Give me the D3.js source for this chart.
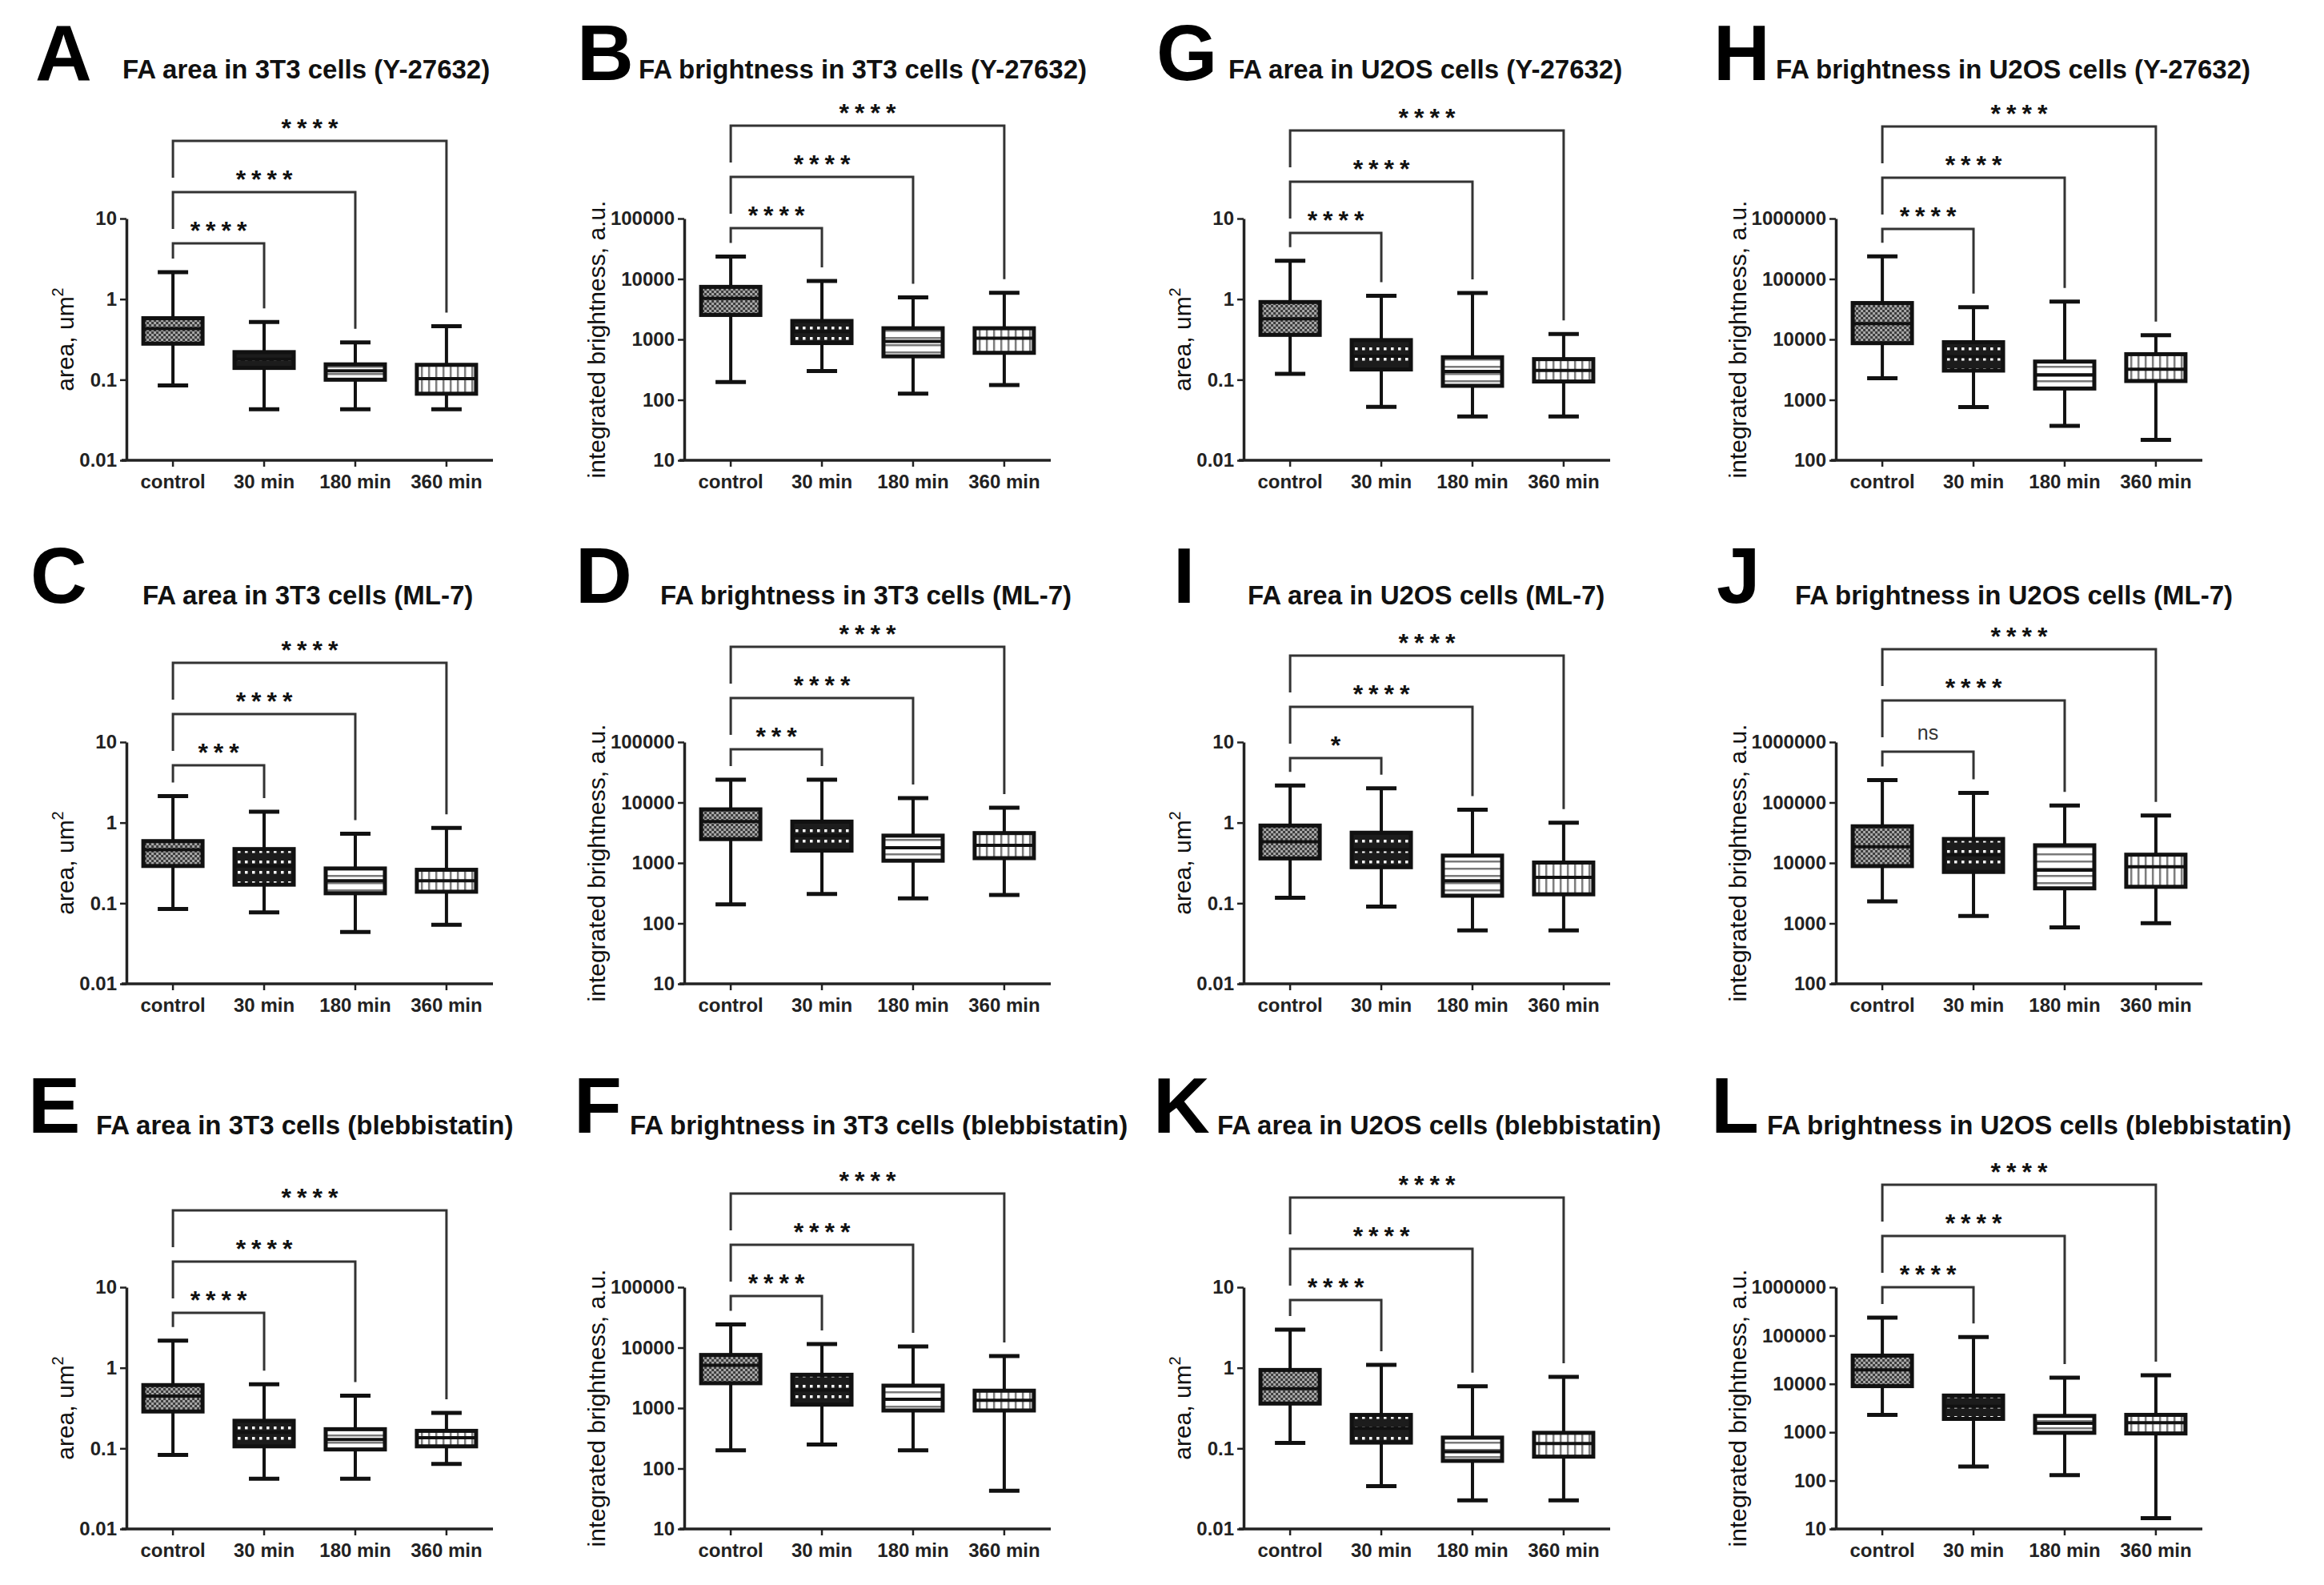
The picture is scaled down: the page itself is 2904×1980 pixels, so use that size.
<!DOCTYPE html>
<html>
<head>
<meta charset="utf-8">
<script src="https://d3js.org/d3.v7.min.js"></script>
<style>
body { margin: 0; background: #fff; }
text { font-family: "Liberation Sans", Arial, sans-serif; }
</style>
</head>
<body>
<div id="chart-area"></div>
<script>
const categories = ["control", "30 min", "180 min", "360 min"];

// box summaries per group: [min, q1, median, q3, max]
const statsA = [[0.085, 0.28, 0.43, 0.58, 2.16], [0.043, 0.14, 0.18, 0.22, 0.52], [0.043, 0.10, 0.129, 0.155, 0.29], [0.043, 0.067, 0.103, 0.153, 0.46]];
const statsB = [[197, 2540, 4760, 7400, 23500], [300, 870, 1350, 2020, 9270], [127, 525, 930, 1530, 4940], [176, 600, 1050, 1530, 5900]];
const statsC = [[0.085, 0.29, 0.46, 0.59, 2.14], [0.077, 0.17, 0.29, 0.47, 1.37], [0.044, 0.133, 0.19, 0.27, 0.73], [0.054, 0.139, 0.19, 0.26, 0.86]];
const statsD = [[207, 2480, 4830, 7700, 23800], [307, 1600, 2830, 4830, 23800], [260, 1090, 1780, 2830, 11800], [296, 1200, 1950, 3120, 8220]];
const statsE = [[0.083, 0.287, 0.445, 0.61, 2.17], [0.042, 0.106, 0.158, 0.22, 0.625], [0.042, 0.097, 0.129, 0.173, 0.45], [0.064, 0.106, 0.136, 0.165, 0.276]];
const statsF = [[200, 2580, 5130, 7570, 24300], [250, 1140, 1990, 3560, 11500], [200, 913, 1400, 2350, 10500], [43, 913, 1350, 1940, 7280]];
const statsG = [[0.118, 0.36, 0.57, 0.92, 3.0], [0.046, 0.134, 0.196, 0.31, 1.1], [0.035, 0.084, 0.127, 0.19, 1.19], [0.035, 0.095, 0.13, 0.18, 0.37]];
const statsH = [[2270, 8670, 18300, 40000, 236000], [760, 3050, 5200, 9000, 34000], [372, 1540, 2580, 4300, 42400], [217, 2050, 3200, 5700, 11700]];
const statsI = [[0.117, 0.36, 0.58, 0.92, 2.89], [0.091, 0.28, 0.46, 0.75, 2.67], [0.046, 0.124, 0.19, 0.39, 1.45], [0.046, 0.129, 0.21, 0.32, 1.0]];
const statsJ = [[2310, 8870, 18600, 40400, 234000], [1330, 7100, 13700, 24900, 144000], [860, 3800, 7580, 19600, 89000], [1010, 4030, 8650, 13700, 61000]];
const statsK = [[0.117, 0.36, 0.55, 0.94, 2.98], [0.034, 0.118, 0.177, 0.26, 1.09], [0.0227, 0.070, 0.091, 0.136, 0.59], [0.0227, 0.079, 0.115, 0.156, 0.77]];
const statsL = [[2290, 9000, 19500, 38500, 234000], [195, 1890, 3430, 5740, 93500], [130, 975, 1530, 2180, 13500], [16.8, 945, 1580, 2290, 15100]];

// significance vs control (30, 180, 360 min)
const sigA = ["****", "****", "****"];
const sigB = ["****", "****", "****"];
const sigC = ["***", "****", "****"];
const sigD = ["***", "****", "****"];
const sigE = ["****", "****", "****"];
const sigF = ["****", "****", "****"];
const sigG = ["****", "****", "****"];
const sigH = ["****", "****", "****"];
const sigI = ["*", "****", "****"];
const sigJ = ["ns", "****", "****"];
const sigK = ["****", "****", "****"];
const sigL = ["****", "****", "****"];

const width = 2904;
const height = 1980;

const svg = d3.select("#chart-area")
    .append("svg")
    .attr("width", width)
    .attr("height", height);

// fill patterns for the four groups
const defs = svg.append("defs");

const p0 = defs.append("pattern").attr("id", "pat0").attr("patternUnits", "userSpaceOnUse").attr("width", 6).attr("height", 6);
p0.append("rect").attr("width", 6).attr("height", 6).attr("fill", "#a8a8a8");
p0.append("rect").attr("width", 3).attr("height", 3).attr("fill", "#3c3c3c");
p0.append("rect").attr("x", 3).attr("y", 3).attr("width", 3).attr("height", 3).attr("fill", "#3c3c3c");

const p1 = defs.append("pattern").attr("id", "pat1").attr("patternUnits", "userSpaceOnUse").attr("width", 9).attr("height", 13);
p1.append("rect").attr("width", 9).attr("height", 13).attr("fill", "#1c1c1c");
p1.append("rect").attr("x", 3).attr("y", 5).attr("width", 3.5).attr("height", 3.5).attr("fill", "#fff");

const p2 = defs.append("pattern").attr("id", "pat2").attr("patternUnits", "userSpaceOnUse").attr("width", 10).attr("height", 9);
p2.append("rect").attr("width", 10).attr("height", 9).attr("fill", "#fff");
p2.append("rect").attr("y", 4).attr("width", 10).attr("height", 2.5).attr("fill", "#7a7a7a");

const p3 = defs.append("pattern").attr("id", "pat3").attr("patternUnits", "userSpaceOnUse").attr("width", 9).attr("height", 10);
p3.append("rect").attr("width", 9).attr("height", 10).attr("fill", "#fff");
p3.append("rect").attr("x", 4).attr("width", 2.5).attr("height", 10).attr("fill", "#7a7a7a");

// grid layout
const colX = [158, 855, 1554, 2294];
const rowTop = [273, 927, 1608];
const rowLetterY = [100, 753, 1415];
const rowTitleY = [98, 755, 1417];
const plotW = 458;
const plotH = 302;

const panels = [
    { letter: "A", lx: 44, tx: 153, col: 0, row: 0, title: "FA area in 3T3 cells (Y-27632)", area: true, domain: [0.01, 10], stats: statsA, sig: sigA, base: 31 },
    { letter: "B", lx: 721, tx: 798, col: 1, row: 0, title: "FA brightness in 3T3 cells (Y-27632)", area: false, domain: [10, 100000], stats: statsB, sig: sigB, base: 12 },
    { letter: "G", lx: 1445, tx: 1535, col: 2, row: 0, title: "FA area in U2OS cells (Y-27632)", area: true, domain: [0.01, 10], stats: statsG, sig: sigG, base: 18 },
    { letter: "H", lx: 2141, tx: 2219, col: 3, row: 0, title: "FA brightness in U2OS cells (Y-27632)", area: false, domain: [100, 1000000], stats: statsH, sig: sigH, base: 13 },
    { letter: "C", lx: 38, tx: 178, col: 0, row: 1, title: "FA area in 3T3 cells (ML-7)", area: true, domain: [0.01, 10], stats: statsC, sig: sigC, base: 29 },
    { letter: "D", lx: 719, tx: 825, col: 1, row: 1, title: "FA brightness in 3T3 cells (ML-7)", area: false, domain: [10, 100000], stats: statsD, sig: sigD, base: 9 },
    { letter: "I", lx: 1466, tx: 1559, col: 2, row: 1, title: "FA area in U2OS cells (ML-7)", area: true, domain: [0.01, 10], stats: statsI, sig: sigI, base: 20 },
    { letter: "J", lx: 2145, tx: 2243, col: 3, row: 1, title: "FA brightness in U2OS cells (ML-7)", area: false, domain: [100, 1000000], stats: statsJ, sig: sigJ, base: 12 },
    { letter: "E", lx: 35, tx: 120, col: 0, row: 2, title: "FA area in 3T3 cells (blebbistatin)", area: true, domain: [0.01, 10], stats: statsE, sig: sigE, base: 32 },
    { letter: "F", lx: 717, tx: 787, col: 1, row: 2, title: "FA brightness in 3T3 cells (blebbistatin)", area: false, domain: [10, 100000], stats: statsF, sig: sigF, base: 11 },
    { letter: "K", lx: 1441, tx: 1521, col: 2, row: 2, title: "FA area in U2OS cells (blebbistatin)", area: true, domain: [0.01, 10], stats: statsK, sig: sigK, base: 16 },
    { letter: "L", lx: 2138, tx: 2208, col: 3, row: 2, title: "FA brightness in U2OS cells (blebbistatin)", area: false, domain: [10, 1000000], stats: statsL, sig: sigL, base: 0 }
];

const fmt = d => d < 1 ? String(d) : d3.format("d")(d);

function drawPanel(p) {
    const x0 = colX[p.col];
    const top = rowTop[p.row];

    // panel letter + title
    svg.append("text")
        .attr("x", p.lx)
        .attr("y", rowLetterY[p.row])
        .attr("font-size", 98)
        .attr("font-weight", "bold")
        .attr("fill", "#000")
        .text(p.letter);

    svg.append("text")
        .attr("x", p.tx)
        .attr("y", rowTitleY[p.row])
        .attr("font-size", 33)
        .attr("font-weight", "bold")
        .attr("fill", "#111")
        .text(p.title);

    const g = svg.append("g").attr("transform", `translate(${x0},${top})`);

    const x = d3.scaleBand()
        .domain(categories)
        .range([0, plotW])
        .paddingInner(0)
        .paddingOuter(0.01);
    const cx = i => x(categories[i]) + x.bandwidth() / 2;

    const y = d3.scaleLog()
        .domain(p.domain)
        .range([plotH, 0]);

    const ticks = d3.range(Math.log10(p.domain[0]), Math.log10(p.domain[1]) + 1).map(e => Math.pow(10, e));

    const yAxis = g.append("g")
        .call(d3.axisLeft(y).tickValues(ticks).tickFormat(fmt).tickSize(8).tickSizeOuter(0).tickPadding(4));
    const xAxis = g.append("g")
        .attr("transform", `translate(0,${plotH})`)
        .call(d3.axisBottom(x).tickSize(8).tickSizeOuter(0).tickPadding(10));
    xAxis.select(".domain").attr("d", `M-6,0H${plotW}`);

    [yAxis, xAxis].forEach(a => {
        a.attr("font-family", null).attr("font-size", null);
        a.select(".domain").attr("stroke", "#222").attr("stroke-width", 3.5);
        a.selectAll(".tick line").attr("stroke", "#222").attr("stroke-width", 2.5);
        a.selectAll(".tick text")
            .attr("font-size", 24)
            .attr("font-weight", "bold")
            .attr("fill", "#222");
    });

    // y axis title, left of the tick labels
    const bb = yAxis.node().getBBox();
    const yt = g.append("text")
        .attr("transform", `translate(${bb.x - 7},${plotH / 2}) rotate(-90)`)
        .attr("text-anchor", "middle")
        .attr("font-size", 30)
        .attr("fill", "#111");
    if (p.area) {
        yt.append("tspan").text("area, um");
        yt.append("tspan").attr("dy", -13).attr("font-size", 20).text("2");
    } else {
        yt.text("integrated brightness, a.u.");
    }

    // boxes
    const bw = 74, cw = 38;
    const box = g.selectAll(".box")
        .data(p.stats)
        .enter()
        .append("g")
        .attr("class", "box")
        .attr("transform", (d, i) => `translate(${cx(i)},0)`);

    box.append("line")
        .attr("y1", d => y(d[4]))
        .attr("y2", d => y(d[0]))
        .attr("stroke", "#111")
        .attr("stroke-width", 4);
    box.append("line")
        .attr("x1", -cw / 2).attr("x2", cw / 2)
        .attr("y1", d => y(d[4])).attr("y2", d => y(d[4]))
        .attr("stroke", "#111").attr("stroke-width", 5);
    box.append("line")
        .attr("x1", -cw / 2).attr("x2", cw / 2)
        .attr("y1", d => y(d[0])).attr("y2", d => y(d[0]))
        .attr("stroke", "#111").attr("stroke-width", 5);
    box.append("rect")
        .attr("x", -bw / 2)
        .attr("width", bw)
        .attr("y", d => y(d[3]))
        .attr("height", d => y(d[1]) - y(d[3]))
        .attr("fill", (d, i) => `url(#pat${i})`)
        .attr("stroke", "#111")
        .attr("stroke-width", 5);
    box.append("line")
        .attr("x1", -bw / 2).attr("x2", bw / 2)
        .attr("y1", d => y(d[2])).attr("y2", d => y(d[2]))
        .attr("stroke", "#111").attr("stroke-width", 4);

    // significance brackets
    p.sig.forEach((s, k) => {
        const by = p.base - k * 64;
        const xa = cx(0), xb = cx(k + 1);
        const leftEnd = Math.min(by + 46, y(p.stats[0][4]) - 17);
        const rightEnd = y(p.stats[k + 1][4]) - 17;
        g.append("path")
            .attr("d", `M${xa},${leftEnd}V${by}H${xb}V${rightEnd}`)
            .attr("fill", "none")
            .attr("stroke", "#333")
            .attr("stroke-width", 3);
        if (s === "ns") {
            g.append("text")
                .attr("x", (xa + xb) / 2)
                .attr("y", by - 15)
                .attr("text-anchor", "middle")
                .attr("font-size", 25)
                .attr("fill", "#333")
                .text(s);
        } else {
            g.append("text")
                .attr("x", (xa + xb) / 2 + 3.5)
                .attr("y", by - 5)
                .attr("text-anchor", "middle")
                .attr("font-size", 32)
                .attr("font-weight", "bold")
                .attr("letter-spacing", 7)
                .attr("fill", "#111")
                .text(s);
        }
    });
}

panels.forEach(drawPanel);
</script>
</body>
</html>
